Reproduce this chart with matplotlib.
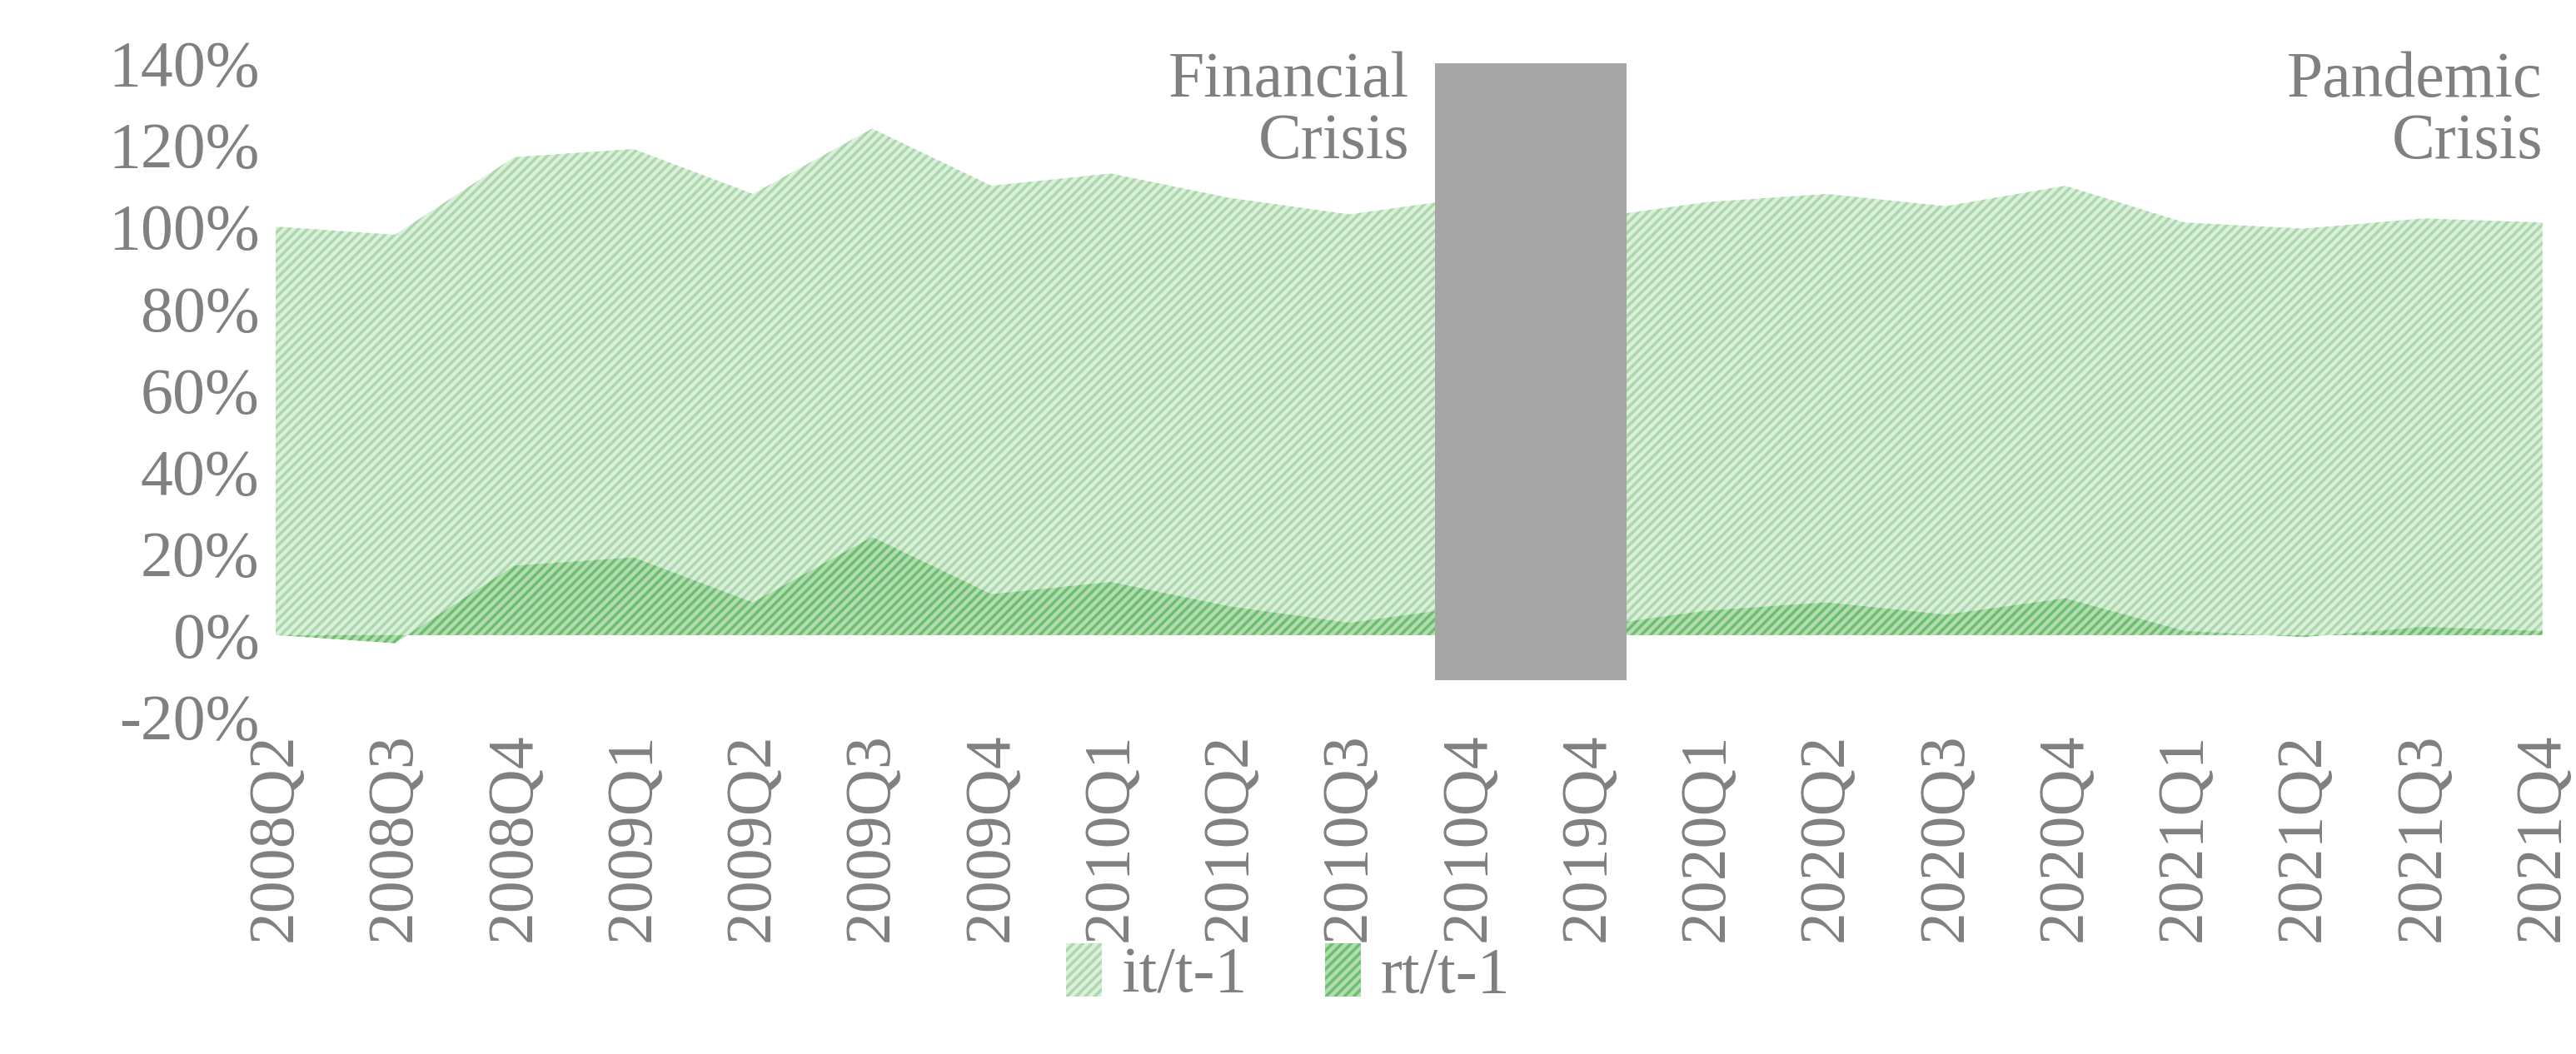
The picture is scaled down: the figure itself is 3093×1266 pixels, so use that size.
import matplotlib
matplotlib.use("Agg")
import matplotlib.pyplot as plt
import numpy as np
from matplotlib.ticker import FuncFormatter
import matplotlib as mpl

mpl.rcParams['font.family'] = ['Liberation Serif', 'DejaVu Serif']
mpl.rcParams['hatch.linewidth'] = 2.5

quarters = ["2008Q2","2008Q3","2008Q4","2009Q1","2009Q2","2009Q3","2009Q4","2010Q1","2010Q2","2010Q3",
            "2010Q4","2019Q4","2020Q1","2020Q2","2020Q3","2020Q4","2021Q1","2021Q2","2021Q3","2021Q4"]
it_vals = [100, 98, 117, 119, 108, 124, 110, 113, 107, 103, 107, 102, 106, 108, 105, 110, 101, 99.5, 102, 101]
rt_vals = [0, -2, 17, 19, 8, 24, 10, 13, 7, 3, 7, 2, 6, 8, 5, 9, 1, -0.5, 2, 1]
crisis_top = 140
crisis_bottom = -11

grey = '#808080'
fig = plt.figure(figsize=(30.93, 12.66), dpi=100)
ax = fig.add_axes([0.107, 0.32, 0.88, 0.62])
x = np.arange(len(quarters))
ax.fill_between(x, 0, np.array(it_vals)/100, facecolor='#dcefdc', edgecolor='#acd9ac', hatch='///', linewidth=0, label='it/t-1')
ax.fill_between(x, 0, np.array(rt_vals)/100, facecolor='#b4dcb4', edgecolor='#6cbf6c', hatch='///', linewidth=0, label='rt/t-1')
ax.bar(10.52, (crisis_top - crisis_bottom)/100, bottom=crisis_bottom/100, width=1.6, color='#a6a6a6', zorder=3)

ax.set_xlim(0, len(quarters)-1)
ax.set_ylim(-0.2, 1.4)
ax.set_yticks(np.arange(-0.2, 1.41, 0.2))
ax.yaxis.set_major_formatter(FuncFormatter(lambda v, p: f"{v*100:.0f}%"))
ax.set_xticks(x)
ax.set_xticklabels(quarters, rotation=90)
ax.tick_params(axis='both', length=0, labelsize=56, colors=grey, pad=14)
for s in ax.spines.values():
    s.set_visible(False)

ax.text(9.5, 1.43, "Financial\nCrisis", ha='right', va='top', fontsize=56, color=grey, linespacing=1.05)
ax.text(19.0, 1.43, "Pandemic\nCrisis", ha='right', va='top', fontsize=56, color=grey, linespacing=1.05)

leg = fig.legend(loc='lower center', bbox_to_anchor=(0.5, -0.01), ncol=2, frameon=False, fontsize=56,
                 labelcolor=grey, handlelength=0.55, handleheight=0.9, handletextpad=0.3, columnspacing=1.2)
fig.savefig("out.png", dpi=100)
